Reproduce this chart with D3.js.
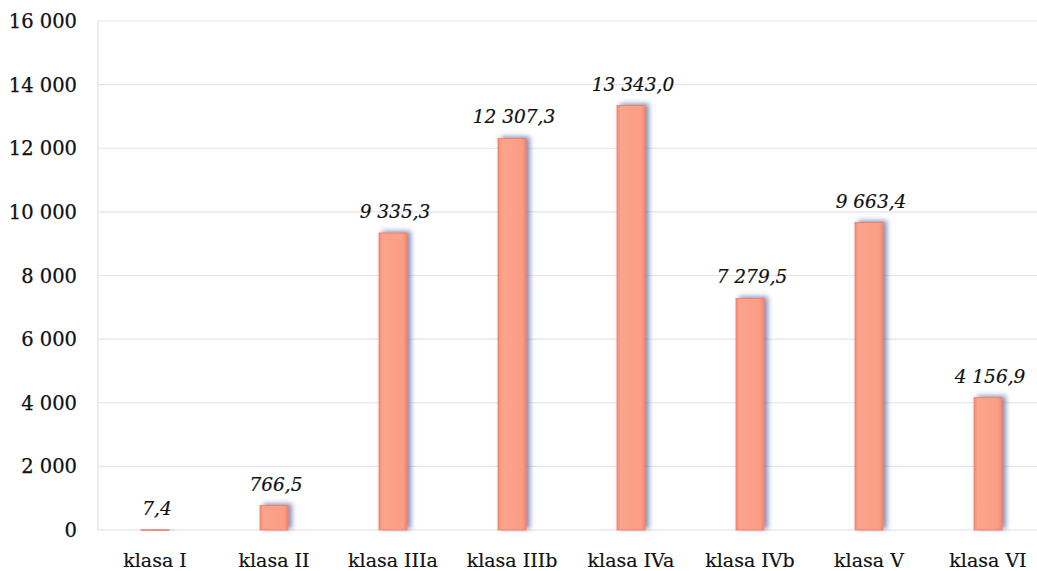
<!DOCTYPE html>
<html>
<head>
<meta charset="utf-8">
<script src="https://cdn.jsdelivr.net/npm/d3@7"></script>
<style>
  html, body { margin: 0; padding: 0; background: #fff; }
  svg { display: block; }
</style>
</head>
<body>
<svg id="chart" width="1037" height="571"></svg>
<script>
const categories = ["klasa I", "klasa II", "klasa IIIa", "klasa IIIb", "klasa IVa", "klasa IVb", "klasa V", "klasa VI"];
const values = [7.4, 766.5, 9335.3, 12307.3, 13343.0, 7279.5, 9663.4, 4156.9];
const valueLabels = ["7,4", "766,5", "9 335,3", "12 307,3", "13 343,0", "7 279,5", "9 663,4", "4 156,9"];
const yTicks = [0, 2000, 4000, 6000, 8000, 10000, 12000, 14000, 16000];
const yTickLabels = ["0", "2 000", "4 000", "6 000", "8 000", "10 000", "12 000", "14 000", "16 000"];

const svg = d3.select("#chart");
const W = 1037;
const plotLeft = 98, plotTop = 21, plotBottom = 530;
const fontFam = "'DejaVu Serif', 'Liberation Serif', serif";

const x = d3.scaleBand().domain(categories).range([95.5, 1047.5]).padding(0);
const y = d3.scaleLinear().domain([0, 16000]).range([plotBottom, plotTop]);

const defs = svg.append("defs");
const f = defs.append("filter").attr("id", "shadow")
  .attr("x", "-80%").attr("y", "-30%").attr("width", "260%").attr("height", "160%");
f.append("feDropShadow").attr("dx", 3.5).attr("dy", -1.5).attr("stdDeviation", 2.6)
  .attr("flood-color", "#4f5f92").attr("flood-opacity", 0.7);

const grad = defs.append("linearGradient").attr("id", "barGrad")
  .attr("x1", "0").attr("x2", "1").attr("y1", "0").attr("y2", "0");
grad.append("stop").attr("offset", "0%").attr("stop-color", "#f88a72");
grad.append("stop").attr("offset", "12%").attr("stop-color", "#fba38c");
grad.append("stop").attr("offset", "85%").attr("stop-color", "#fb9e86");
grad.append("stop").attr("offset", "100%").attr("stop-color", "#f7866e");

// gridlines
svg.append("g").selectAll("line").data(yTicks.filter(d => d > 0)).join("line")
  .attr("x1", plotLeft).attr("x2", W)
  .attr("y1", d => y(d)).attr("y2", d => y(d))
  .attr("stroke", "#e4e3ee").attr("stroke-width", 1.2);

// axis lines
svg.append("line").attr("x1", plotLeft).attr("x2", plotLeft).attr("y1", plotTop).attr("y2", plotBottom)
  .attr("stroke", "#e2e1ee").attr("stroke-width", 1.2);
svg.append("line").attr("x1", plotLeft).attr("x2", W).attr("y1", plotBottom).attr("y2", plotBottom)
  .attr("stroke", "#dedde9").attr("stroke-width", 1.2);

// y tick labels
svg.append("g").selectAll("text").data(yTicks).join("text")
  .attr("x", 77).attr("y", d => y(d)).attr("dy", "0.36em")
  .attr("text-anchor", "end")
  .attr("font-family", fontFam).attr("font-size", 19.5).attr("fill", "#111")
  .attr("stroke", "#111").attr("stroke-width", 0.25)
  .text((d, i) => yTickLabels[i]);

// bars
const barW = 28;
svg.append("g").selectAll("rect").data(values).join("rect")
  .attr("x", (d, i) => x(categories[i]) + x.bandwidth() / 2 - barW / 2)
  .attr("y", d => y(d))
  .attr("width", barW)
  .attr("height", d => Math.max(0.6, plotBottom - y(d)))
  .attr("fill", "url(#barGrad)")
  .attr("stroke", "#f27a62").attr("stroke-width", 0.8)
  .attr("filter", "url(#shadow)");

// value labels
svg.append("g").selectAll("text").data(values).join("text")
  .attr("x", (d, i) => x(categories[i]) + x.bandwidth() / 2 + 2)
  .attr("y", d => y(d) - 15)
  .attr("text-anchor", "middle")
  .attr("font-family", fontFam).attr("font-style", "italic").attr("font-size", 18.5)
  .attr("fill", "#111").attr("stroke", "#111").attr("stroke-width", 0.2)
  .text((d, i) => valueLabels[i]);

// x labels
svg.append("g").selectAll("text").data(categories).join("text")
  .attr("x", d => x(d) + x.bandwidth() / 2)
  .attr("y", 567)
  .attr("text-anchor", "middle")
  .attr("font-family", fontFam).attr("font-size", 19).attr("fill", "#111")
  .attr("stroke", "#111").attr("stroke-width", 0.2)
  .text(d => d);
</script>
</body>
</html>
